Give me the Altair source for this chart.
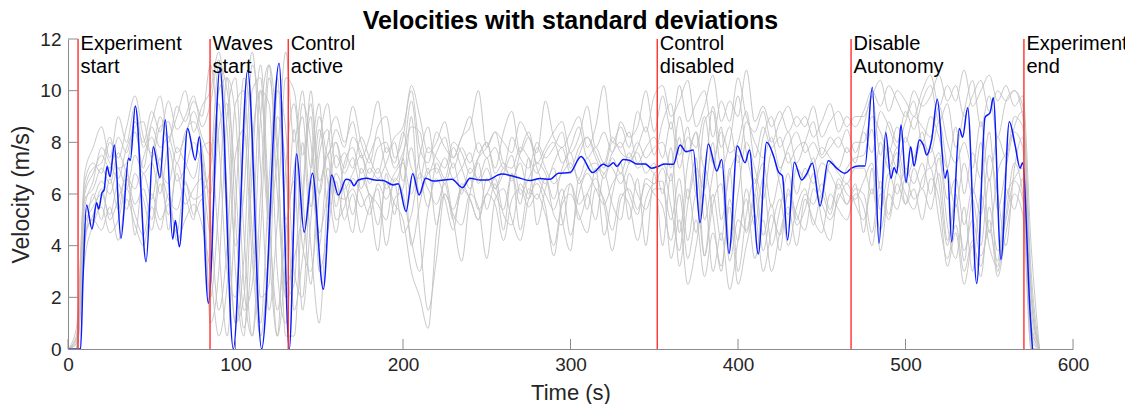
import altair as alt
import pandas as pd

# ---------------- data ----------------
# individual runs (gray), sampled every 5 s from 0 to 580 s
grid_t = list(range(0, 585, 5))

run_1 = [0, 0.5, 6.0, 6.8, 7.5, 7.0, 8.2, 7.6, 8.8, 8.0, 9.2, 8.4, 9.6, 8.5, 9.0, 9.8, 8.6,
         9.5, 11.2, 6.0, 1.0, 3.5, 10.0, 10.5, 4.0, 0.5, 7.0,
         9.5, 6.0, 2.5, 7.5, 8.5, 5.5,
         7.2, 7.8, 6.8, 7.5, 8.2, 7.0, 6.5, 7.4, 9.6, 7.0, 5.5, 7.2, 6.6, 7.8, 7.0, 6.2, 7.4, 8.0, 6.8,
         7.2, 6.5, 7.6, 8.4, 7.0, 6.4, 7.2, 7.8, 6.8, 7.5, 8.2, 7.4, 6.8, 7.6, 8.0, 7.2, 7.8, 8.6, 7.5,
         8.8, 9.5, 7.5, 8.6, 6.0, 8.8, 9.2, 7.0, 8.0, 9.8, 7.6, 6.4, 8.2, 9.0, 7.8, 8.4, 7.2, 8.0, 8.8,
         7.5, 8.2, 7.8, 8.5, 7.6,
         8.6, 9.8, 7.5, 8.8, 8.0, 9.2, 8.5, 9.6, 10.2, 8.8, 9.5, 7.8, 9.2, 10.4, 8.6, 9.8, 8.2, 9.6,
         10.0, 9.0,
         2.5, 0]
run_2 = [0, 0.2, 4.5, 5.0, 4.6, 5.5, 4.2, 5.8, 4.8, 4.0, 5.5, 4.6, 6.0, 4.2, 5.0, 5.6, 4.8,
         3.0, 0.5, 2.5, 7.5, 8.5, 3.5, 0.5, 4.0, 9.0, 7.0,
         1.5, 3.5, 6.5, 4.0, 7.0, 6.0,
         5.8, 6.2, 5.5, 6.0, 4.8, 6.4, 5.6, 5.0, 3.0, 2.0, 0.8, 4.5, 6.0, 5.4, 6.2, 5.8, 5.0, 6.0, 5.6,
         4.2, 5.8, 6.2, 5.5, 6.0, 5.2, 4.0, 5.8, 6.4, 5.0, 6.0, 6.6, 5.6, 3.8, 5.8, 6.2, 5.4, 6.4, 6.0,
         5.5, 4.2, 6.0, 3.5, 5.0, 2.8, 4.5, 3.2, 5.5, 2.5, 4.0, 5.2, 3.0, 4.6, 5.8, 4.0, 5.5, 6.2, 4.8,
         6.0, 5.2, 6.4, 5.6, 6.2,
         6.0, 4.5, 6.5, 5.2, 6.8, 6.0, 5.4, 6.6, 7.0, 5.0, 3.5, 4.8, 3.0, 4.2, 2.8, 5.5, 3.8, 5.0,
         6.5, 5.8,
         1.0, 0]
run_3 = [0, 0, 5.2, 5.8, 6.5, 6.0, 7.0, 6.2, 7.5, 6.8, 7.2, 6.0, 7.8, 6.5, 7.0, 8.0, 7.2,
         6.0, 10.0, 10.5, 5.0, 0.8, 4.0, 10.0, 9.5, 3.0, 1.0,
         5.0, 9.5, 8.0, 4.5, 6.0, 7.5,
         6.8, 7.4, 6.2, 7.0, 6.6, 7.2, 8.0, 6.5, 7.8, 6.0, 6.8, 7.0, 6.4, 7.2, 6.0, 7.0, 6.6, 7.4, 6.2,
         6.8, 7.5, 6.0, 6.6, 7.2, 6.8, 5.8, 7.0, 7.6, 6.4, 7.0, 7.2, 6.6, 7.4, 6.8, 7.6, 7.0, 7.2, 6.8,
         7.2, 6.5, 8.2, 5.8, 7.0, 6.2, 8.0, 5.0, 6.8, 7.5, 4.5, 6.0, 7.2, 5.5, 6.8, 7.6, 6.0, 7.0, 6.4,
         7.2, 6.8, 6.2, 7.0, 7.4,
         7.5, 8.5, 6.2, 7.8, 7.0, 8.2, 7.4, 8.0, 7.6, 8.8, 7.0, 5.5, 7.2, 6.0, 8.0, 4.5, 6.8, 7.6,
         8.4, 7.8,
         0.5, 0]
run_4 = [0, 0.8, 6.5, 7.2, 6.8, 8.0, 7.4, 8.6, 9.8, 8.2, 7.6, 9.0, 8.0, 9.4, 8.8, 9.6, 9.0,
         11.0, 8.0, 3.0, 2.0, 8.0, 11.5, 7.0, 1.5, 5.0, 10.5,
         10.0, 7.5, 9.5, 6.0, 8.0, 9.0,
         8.0, 8.8, 7.4, 8.2, 9.6, 7.6, 8.2, 8.6, 10.0, 7.8, 7.2, 8.4, 7.8, 7.4, 8.2, 9.0, 7.6, 8.0, 7.0,
         8.4, 9.2, 7.6, 8.2, 7.2, 7.8, 8.4, 8.8, 7.6, 8.2, 9.4, 7.8, 8.4, 7.6, 8.8, 8.2, 8.6, 10.0, 8.4,
         9.8, 8.5, 10.2, 8.8, 9.5, 10.0, 8.2, 9.6, 8.8, 10.5, 9.0, 8.4, 9.2, 8.0, 8.8, 9.4, 8.6, 9.0,
         8.2, 8.8, 9.5, 8.4, 9.0, 8.6,
         9.2, 10.0, 9.4, 10.2, 9.6, 9.0, 10.0, 9.4, 9.8, 10.6, 9.6, 10.2, 9.0, 9.8, 10.4, 9.2, 10.0,
         9.6, 10.0, 9.4,
         3.0, 0]
run_5 = [0, 0, 3.5, 4.8, 5.5, 4.5, 5.0, 6.2, 5.2, 4.4, 6.0, 5.0, 5.6, 4.5, 6.5, 5.2, 5.8,
         2.0, 5.5, 10.5, 9.0, 2.5, 0.5, 6.0, 11.0, 8.0, 0.5,
         0.5, 6.0, 9.0, 3.0, 4.5, 6.5,
         5.0, 6.0, 4.5, 5.5, 6.2, 4.0, 5.8, 6.2, 9.0, 4.5, 1.5, 3.5, 6.0, 5.2, 4.8, 6.0, 5.5, 3.5, 5.8,
         6.2, 5.0, 4.2, 5.8, 6.4, 5.5, 3.6, 5.6, 6.0, 5.2, 4.5, 6.2, 5.8, 4.6, 6.0, 5.6, 4.2, 5.8, 6.4,
         6.5, 3.5, 5.0, 2.5, 4.0, 6.0, 3.0, 4.5, 2.3, 4.2, 5.8, 3.5, 5.0, 3.0, 4.5, 5.5, 4.0, 5.8, 5.0,
         4.5, 6.0, 5.4, 5.0, 6.0,
         5.5, 4.0, 6.0, 5.0, 6.4, 5.6, 6.2, 5.0, 6.6, 5.8, 3.2, 4.5, 2.5, 4.0, 3.2, 5.0, 2.8, 4.5,
         6.0, 5.2,
         0, 0]
run_6 = [0, 0.3, 5.8, 6.2, 7.0, 6.4, 7.6, 6.8, 6.2, 7.4, 8.2, 7.0, 6.4, 7.8, 7.2, 6.6, 7.8,
         8.0, 4.0, 0.5, 5.5, 10.5, 8.5, 2.0, 2.5, 10.0, 8.5,
         3.0, 2.0, 7.0, 9.5, 5.5, 6.8,
         6.2, 6.8, 7.5, 6.4, 7.0, 6.2, 6.8, 7.2, 6.0, 7.5, 8.6, 6.8, 7.4, 6.6, 7.0, 7.6, 6.4, 7.0, 6.2,
         7.0, 6.6, 7.2, 6.0, 7.8, 7.0, 6.4, 6.8, 7.2, 6.6, 7.4, 6.8, 7.2, 7.0, 6.4, 7.2, 7.6, 6.8, 7.2,
         6.0, 7.8, 4.5, 7.2, 8.4, 5.0, 6.8, 8.6, 4.0, 6.0, 8.0, 7.0, 5.8, 7.6, 6.4, 5.2, 7.0, 6.6, 7.4,
         6.0, 7.2, 6.8, 6.4, 7.0,
         7.0, 6.0, 8.0, 7.0, 7.8, 6.6, 7.4, 8.4, 7.0, 7.6, 5.8, 6.6, 4.8, 6.2, 5.2, 7.5, 6.0, 4.0,
         7.0, 8.2,
         2.0, 0]
run_7 = [0, 0, 5.5, 6.5, 7.8, 7.2, 6.6, 7.8, 8.4, 7.0, 8.6, 7.8, 8.2, 7.2, 8.4, 8.8, 7.8,
         5.0, 1.5, 4.0, 9.5, 10.0, 4.5, 1.0, 6.5, 10.5, 5.0,
         7.0, 9.0, 5.5, 8.0, 9.5, 7.0,
         7.6, 7.0, 8.2, 7.4, 6.8, 7.8, 7.2, 8.4, 7.0, 6.6, 7.8, 7.4, 7.0, 8.0, 7.6, 6.8, 7.4, 7.8, 8.4,
         7.2, 7.0, 7.8, 7.4, 6.8, 7.6, 8.0, 7.2, 7.8, 8.6, 7.4, 7.8, 7.2, 8.2, 7.6, 7.4, 8.0, 7.4, 7.8,
         8.0, 7.0, 9.0, 7.6, 8.4, 7.0, 9.4, 7.8, 8.6, 7.2, 8.8, 8.0, 7.4, 8.2, 7.0, 7.8, 8.4, 7.6, 8.0,
         7.4, 7.8, 8.2, 7.6, 8.0,
         8.0, 9.0, 8.4, 7.6, 8.6, 8.0, 9.0, 8.6, 8.2, 9.4, 8.0, 7.2, 8.0, 7.0, 8.8, 6.5, 8.2, 7.4,
         9.0, 8.6,
         1.5, 0]
run_8 = [0, 0, 4.8, 5.5, 6.0, 5.2, 6.4, 5.4, 6.8, 5.8, 4.6, 6.4, 5.2, 6.8, 5.6, 6.2, 6.6,
         4.5, 8.5, 9.5, 3.0, 0.5, 7.0, 11.0, 5.5, 0.5, 3.5,
         8.5, 4.0, 3.0, 6.0, 7.5, 5.0,
         5.5, 6.6, 6.0, 5.2, 6.4, 5.8, 6.4, 4.5, 5.2, 6.8, 6.2, 5.6, 6.4, 5.0, 6.2, 6.6, 5.4, 6.0, 6.6,
         5.2, 4.8, 6.4, 5.8, 6.6, 6.0, 5.4, 6.2, 4.4, 6.0, 6.8, 6.2, 5.6, 6.4, 6.8, 6.0, 5.2, 6.6, 6.4,
         7.0, 5.5, 3.8, 6.2, 4.5, 7.0, 5.2, 3.0, 5.8, 4.2, 6.2, 4.8, 6.6, 4.0, 5.4, 6.8, 5.0, 6.0, 5.6,
         6.4, 5.4, 6.6, 6.0, 5.8,
         6.5, 7.2, 5.4, 6.8, 6.0, 7.0, 6.4, 7.2, 6.0, 7.4, 4.8, 3.5, 5.5, 3.0, 6.0, 4.0, 3.2, 5.8,
         6.6, 7.0,
         0.8, 0]
run_9 = [0, 0, 4.0, 6.0, 5.0, 6.6, 5.4, 7.0, 4.4, 6.8, 5.8, 7.4, 4.6, 7.2, 6.0, 5.0, 7.6,
         1.0, 3.0, 9.0, 10.5, 4.5, 0.5, 4.5, 10.5, 7.5, 2.0,
         2.5, 8.0, 4.0, 1.0, 6.0, 8.0,
         6.0, 4.5, 7.0, 5.8, 3.8, 6.8, 5.2, 7.4, 4.0, 5.6, 7.0, 4.8, 6.6, 5.0, 3.4, 6.0, 7.2, 5.4, 6.4,
         4.6, 6.8, 5.6, 7.4, 4.8, 6.2, 7.0, 5.0, 3.8, 6.6, 5.4, 7.0, 4.4, 6.0, 7.2, 5.0, 6.6, 4.0, 6.8,
         4.0, 6.8, 3.2, 5.6, 7.4, 3.6, 6.0, 4.2, 7.0, 3.0, 5.2, 6.6, 4.4, 5.6, 3.8, 6.2, 4.8, 5.4, 6.8,
         5.0, 4.2, 6.0, 5.6, 6.4,
         4.5, 7.0, 3.8, 6.4, 7.6, 5.6, 7.0, 6.2, 7.8, 6.4, 4.0, 6.0, 3.4, 5.8, 4.0, 6.6, 3.0, 5.2,
         7.2, 6.0,
         0.3, 0]
run_10 = [0, 0.4, 6.8, 7.8, 8.6, 7.4, 9.0, 8.0, 9.4, 7.8, 8.8, 9.8, 8.2, 9.0, 10.0, 8.4, 9.4,
          10.0, 11.5, 8.5, 4.0, 6.0, 11.0, 9.0, 5.0, 7.5, 11.5,
          8.0, 10.0, 7.0, 9.0, 7.5, 8.5,
          7.8, 9.4, 8.0, 7.2, 8.6, 9.0, 7.4, 8.2, 10.2, 9.0, 7.6, 8.0, 8.8, 7.4, 8.2, 8.6, 10.0, 7.8,
          8.4, 8.0, 7.6, 8.8, 8.2, 7.6, 9.6, 8.2, 7.8, 8.4, 9.0, 7.8, 8.6, 10.2, 8.0, 8.6, 7.8, 9.2,
          8.4, 9.8,
          10.2, 9.0, 9.6, 10.4, 8.6, 9.4, 10.6, 8.8, 9.6, 9.0, 10.8, 8.8, 9.4, 8.6, 9.2, 8.4, 9.0,
          8.6, 9.4, 8.2, 8.8, 9.2, 8.6, 9.0,
          9.0, 9.8, 10.4, 9.2, 10.0, 9.6, 9.0, 10.0, 10.6, 9.4, 10.2, 9.6, 10.8, 9.4, 10.0, 10.6,
          9.6, 10.2, 9.4, 9.8,
          4.0, 0]
run_11 = [0, 0, 4.2, 5.2, 6.2, 5.0, 5.8, 6.6, 5.6, 6.2, 5.0, 6.8, 5.8, 5.4, 6.4, 5.8, 6.0,
          7.0, 9.5, 5.0, 1.0, 2.0, 8.0, 10.0, 5.0, 1.5, 4.5,
          6.5, 1.5, 5.0, 8.5, 6.5, 4.5,
          6.4, 5.2, 6.6, 6.0, 5.6, 5.0, 6.6, 6.0, 4.2, 3.0, 5.4, 6.6, 5.8, 4.6, 6.4, 5.8, 5.0, 6.6,
          6.0, 5.4, 6.8, 4.6, 6.2, 5.8, 6.6, 5.2, 4.8, 6.4, 5.6, 6.0, 5.0, 6.8, 5.6, 5.0, 6.8, 6.0,
          5.4, 6.2,
          6.2, 5.0, 6.6, 4.2, 6.0, 3.6, 5.6, 6.4, 3.4, 5.0, 4.6, 6.0, 3.8, 5.2, 4.4, 6.0, 5.2, 4.6,
          6.2, 5.6, 5.0, 5.8, 6.4, 5.6,
          5.0, 6.2, 4.6, 6.0, 5.4, 6.6, 5.8, 6.2, 5.4, 6.8, 4.2, 5.6, 3.8, 5.0, 3.6, 4.6, 3.4, 6.2,
          5.4, 6.6,
          0, 0]
run_12 = [0, 0.2, 6.2, 7.0, 7.2, 8.2, 7.0, 7.2, 8.6, 8.8, 7.4, 8.6, 8.8, 7.6, 8.2, 9.2, 8.2,
          7.5, 11.0, 10.0, 6.5, 1.5, 2.5, 9.0, 11.0, 6.0, 2.5,
          3.5, 5.5, 10.0, 6.5, 7.5, 8.0,
          7.0, 8.2, 7.6, 6.8, 7.8, 8.0, 7.0, 7.6, 8.6, 8.4, 6.8, 7.6, 8.2, 7.0, 7.8, 7.2, 8.0, 7.4,
          7.8, 7.0, 8.2, 7.4, 7.0, 8.0, 7.4, 7.8, 8.4, 7.0, 7.8, 8.2, 7.6, 7.0, 8.0, 7.8, 8.4, 7.2,
          7.8, 8.2,
          7.4, 8.8, 7.0, 8.2, 7.8, 9.0, 7.2, 8.4, 7.6, 8.0, 9.2, 7.4, 8.6, 7.8, 8.2, 7.2, 7.8, 8.0,
          7.2, 7.8, 7.4, 7.0, 7.8, 7.2,
          8.4, 7.6, 9.2, 8.6, 7.8, 8.8, 9.6, 8.0, 9.0, 8.2, 7.0, 8.6, 6.0, 7.6, 6.6, 8.4, 5.4, 7.0,
          8.6, 9.2,
          2.2, 0]
runs = [run_1, run_2, run_3, run_4, run_5, run_6, run_7, run_8, run_9, run_10, run_11, run_12]

# highlighted run (blue)
blue_t = [0, 7.5, 9, 11.1, 14.3, 17.1, 18.3, 20.3, 21.5, 23.3, 25.1, 27.7, 31.6, 36.2, 37.2, 40.2,
          46.6, 50.9, 54.9, 58.1, 62.5, 64.1, 66.5, 71.4, 76.0, 78.4, 83.8, 90.7, 98.7, 107.3,
          115.6, 126, 132.1, 136.5, 141.0, 145.9, 152.4, 157.4, 161.4, 166, 168.8, 170.7, 173.3,
          178.3, 183.2, 188.2, 194.2, 197.2, 201.8, 205.8, 209.6, 213.5, 218.1, 224.1, 229.1,
          235.6, 240, 246, 250, 258.9, 267.9, 275.8, 281.8, 287.8, 292.7, 299.7, 306.3, 313.2,
          319.6, 322.6, 325.6, 327.6, 331.5, 335.5, 339.5, 344.5, 348.5, 352.4, 356.4, 361.4,
          365.4, 369, 373.3, 377.3, 382.3, 387.3, 390.3, 394.6, 399.6, 404.2, 406.8, 412.1, 417.1,
          421.1, 424.1, 426.5, 429.6, 433.6, 438, 441, 444.4, 449, 453.9, 458.9, 463.9, 467.8,
          471.8, 475.8, 480.2, 484.2, 488.2, 491.3, 493.2, 494.8, 497.3, 500.3, 503.1, 505.1,
          508.3, 510.7, 512.6, 515.6, 519, 523.6, 525, 527.6, 532.1, 534.1, 537.1, 542.5, 547.5,
          550.5, 552.4, 557, 562, 565.4, 568.4, 569.9, 574.3, 575.8]
blue_v = [0, 0, 2.8, 5.57, 4.65, 5.66, 5.42, 6.05, 6.15, 7.06, 6.67, 7.9, 4.28, 7.38, 7.3, 9.41,
          3.38, 7.83, 6.63, 8.87, 4.25, 4.97, 3.96, 8.54, 7.32, 8.22, 1.77, 10.87, 0, 10.78,
          0, 11.06, 0, 7.55, 4.52, 6.8, 2.31, 6.74, 5.96, 6.57, 6.52, 6.32, 6.54,
          6.61, 6.54, 6.52, 6.35, 6.4, 5.32, 6.78, 5.96, 6.61, 6.5, 6.54, 6.57,
          6.25, 6.61, 6.54, 6.54, 6.77, 6.65, 6.52, 6.6, 6.57, 6.8, 6.83, 7.45, 6.83,
          7.15, 7.07, 7.21, 7.07, 7.34, 7.3, 7.16, 7.16, 7.0, 7.07, 7.16, 7.15,
          7.9, 7.64, 7.7, 4.89, 7.94, 6.89, 7.34, 3.7, 7.86, 7.21, 7.7, 3.68, 8.0,
          7.5, 6.86, 6.7, 4.22, 7.23, 6.54, 6.78, 7.19, 5.54, 7.29, 7.0, 6.8, 7.0,
          7.08, 7.08, 10.13, 4.09, 8.38, 6.61, 7.03, 6.8, 8.67, 6.44, 7.83, 7.08,
          8.09, 7.89, 7.51, 8.09, 9.67, 6.61, 6.93, 4.15, 8.54, 8.2, 9.34, 2.54, 8.97,
          9.15, 9.73, 3.47, 8.8, 7.9, 7.0, 7.21, 1.5, 0]

# events (red lines) and their labels
event_t = [6.0, 84.8, 131.5, 351.8, 467.5, 570.7]
event_line1 = ["Experiment", "Waves", "Control", "Control", "Disable", "Experiment"]
event_line2 = ["\u00a0start", "\u00a0start", "active", "disabled", "\u00a0Autonomy", "\u00a0end"]

chart_title = ["Velocities with standard deviations"]
x_ticks = [0, 100, 200, 300, 400, 500, 600]
y_ticks = [0, 2, 4, 6, 8, 10, 12]

# ---------------- tables ----------------
gray_rows = []
for i, r in enumerate(runs):
    for t, v in zip(grid_t, r):
        gray_rows.append({"run": i, "t": t, "v": v})
gray_df = pd.DataFrame(gray_rows)
blue_df = pd.DataFrame({"t": blue_t, "v": blue_v})
ev_df = pd.DataFrame({"t": event_t, "l1": event_line1, "l2": event_line2})
title_df = pd.DataFrame({"label": chart_title})
xt_df = pd.DataFrame({"t": x_ticks})
yt_df = pd.DataFrame({"v": y_ticks})

W, H = 1005, 310
FONT = "Liberation Sans"
AX = "#262626"

xscale = alt.Scale(domain=[0, 600], nice=False, zero=False)
yscale = alt.Scale(domain=[0, 12], nice=False, zero=False)

x_enc = alt.X("t:Q", scale=xscale,
              axis=alt.Axis(values=x_ticks, format="d", title="Time (s)", grid=False,
                            ticks=False, labelFontSize=19, labelPadding=6, labelColor=AX,
                            labelFlush=False, titleFontSize=22, titleFontWeight="normal",
                            titleColor=AX, titlePadding=8, domainColor="#8c8c8c",
                            labelFont=FONT, titleFont=FONT))
y_enc = alt.Y("v:Q", scale=yscale,
              axis=alt.Axis(values=y_ticks, format="d", title="Velocity (m/s)", grid=False,
                            ticks=False, labelFontSize=19, labelPadding=7, labelColor=AX,
                            labelFlush=False, titleFontSize=23, titleFontWeight="normal",
                            titleColor=AX, titlePadding=6, domainColor="#8c8c8c",
                            labelFont=FONT, titleFont=FONT))

gray = alt.Chart(gray_df).mark_line(
    interpolate="monotone", clip=True, strokeWidth=0.9, color="#c2c2c2"
).encode(x=x_enc, y=y_enc, detail="run:N")

blue = alt.Chart(blue_df).mark_line(
    interpolate="monotone", clip=True, strokeWidth=1.5, color="#0a1aff"
).encode(x=alt.X("t:Q", scale=xscale), y=alt.Y("v:Q", scale=yscale), order="t:Q")

red = alt.Chart(ev_df).mark_rule(color="#ff3030", strokeWidth=1.4).encode(
    x=alt.X("t:Q", scale=xscale), y=alt.value(0), y2=alt.value(H))

txt1 = alt.Chart(ev_df).mark_text(
    align="left", baseline="alphabetic", dx=2.5, fontSize=20, font=FONT, color="#000000"
).encode(x=alt.X("t:Q", scale=xscale), y=alt.value(11), text="l1:N")
txt2 = alt.Chart(ev_df).mark_text(
    align="left", baseline="alphabetic", dx=2.5, fontSize=20, font=FONT, color="#000000"
).encode(x=alt.X("t:Q", scale=xscale), y=alt.value(34), text="l2:N")

title_txt = alt.Chart(title_df).mark_text(
    align="center", baseline="alphabetic", fontSize=25, fontWeight="bold", font=FONT,
    color="#000000"
).encode(x=alt.value(W / 2), y=alt.value(-10), text="label:N")

xtick = alt.Chart(xt_df).mark_rule(color="#8c8c8c", strokeWidth=1).encode(
    x=alt.X("t:Q", scale=xscale), y=alt.value(H), y2=alt.value(H - 10))
ytick = alt.Chart(yt_df).mark_rule(color="#8c8c8c", strokeWidth=1).encode(
    y=alt.Y("v:Q", scale=yscale), x=alt.value(0), x2=alt.value(10))

chart = alt.layer(gray, blue, red, xtick, ytick, txt1, txt2, title_txt).properties(
    width=W, height=H,
    autosize=alt.AutoSizeParams(type="none"),
    padding={"left": 60, "top": 31, "right": 52, "bottom": 55},
).configure_view(stroke=None)

chart.save("out.html", embed_options={"renderer": "svg", "actions": False})
